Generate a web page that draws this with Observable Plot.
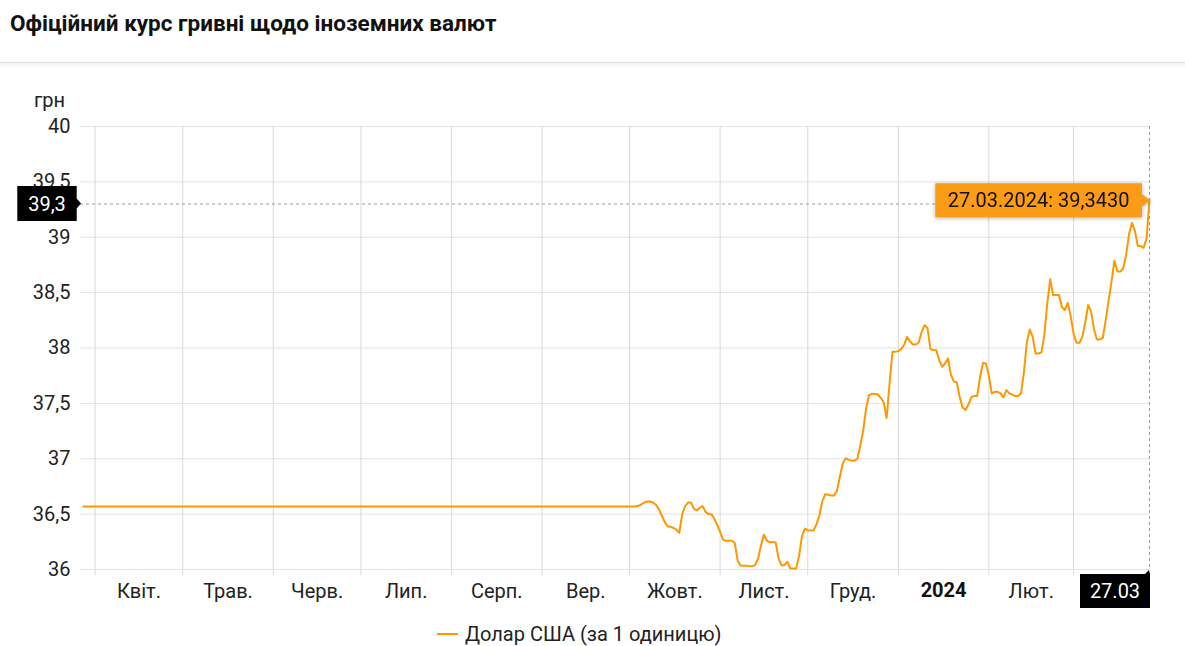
<!DOCTYPE html>
<html><head><meta charset="utf-8">
<script src="https://cdn.jsdelivr.net/npm/d3@7"></script>
<script src="https://cdn.jsdelivr.net/npm/@observablehq/plot@0.6"></script>
<style>
body{margin:0;background:#fff;font-family:Roboto,sans-serif;width:1185px;height:646px;position:relative;overflow:hidden}
#title{position:absolute;left:10px;top:10px;font-size:22.5px;font-weight:bold;color:#111;white-space:nowrap}
#sep{position:absolute;left:0;top:62px;width:1185px;height:1px;background:#dcdcdc;box-shadow:0 2px 3px rgba(0,0,0,0.14)}
#chart{position:absolute;left:0;top:70px}
#legend{position:absolute;left:437px;top:622px;font-size:20px;color:#222;display:flex;align-items:center;white-space:nowrap}
</style></head><body>
<div id="title">Офіційний курс гривні щодо іноземних валют</div>
<div id="sep"></div>
<div id="chart"></div>
<div id="legend"><svg width="22" height="4"><line x1="0" x2="21" y1="2" y2="2" stroke="#FF9800" stroke-width="2"/></svg><span style="margin-left:6px">Долар США (за 1 одиницю)</span></div>
<script>
const dates = [
"2023-03-28","2023-10-03","2023-10-04","2023-10-05","2023-10-06","2023-10-07","2023-10-08","2023-10-09","2023-10-10","2023-10-11","2023-10-12","2023-10-13","2023-10-14","2023-10-15","2023-10-16","2023-10-17","2023-10-18","2023-10-19","2023-10-20","2023-10-21","2023-10-22","2023-10-23","2023-10-24","2023-10-25","2023-10-26","2023-10-27","2023-10-28","2023-10-29","2023-10-30","2023-10-31",
"2023-11-01","2023-11-02","2023-11-03","2023-11-04","2023-11-05","2023-11-06","2023-11-07","2023-11-08","2023-11-09","2023-11-10","2023-11-11","2023-11-12","2023-11-13","2023-11-14","2023-11-15","2023-11-16","2023-11-17","2023-11-18","2023-11-19","2023-11-20","2023-11-21","2023-11-22","2023-11-23","2023-11-24","2023-11-25","2023-11-26","2023-11-27","2023-11-28","2023-11-29","2023-11-30",
"2023-12-01","2023-12-02","2023-12-03","2023-12-04","2023-12-05","2023-12-06","2023-12-07","2023-12-08","2023-12-09","2023-12-10","2023-12-11","2023-12-12","2023-12-13","2023-12-14","2023-12-15","2023-12-16","2023-12-17","2023-12-18","2023-12-19","2023-12-20","2023-12-21","2023-12-22","2023-12-23","2023-12-24","2023-12-25","2023-12-26","2023-12-27","2023-12-28","2023-12-29","2023-12-30","2023-12-31",
"2024-01-01","2024-01-02","2024-01-03","2024-01-04","2024-01-05","2024-01-06","2024-01-07","2024-01-08","2024-01-09","2024-01-10","2024-01-11","2024-01-12","2024-01-13","2024-01-14","2024-01-15","2024-01-16","2024-01-17","2024-01-18","2024-01-19","2024-01-20","2024-01-21","2024-01-22","2024-01-23","2024-01-24","2024-01-25","2024-01-26","2024-01-27","2024-01-28","2024-01-29","2024-01-30","2024-01-31",
"2024-02-01","2024-02-02","2024-02-03","2024-02-04","2024-02-05","2024-02-06","2024-02-07","2024-02-08","2024-02-09","2024-02-10","2024-02-11","2024-02-12","2024-02-13","2024-02-14","2024-02-15","2024-02-16","2024-02-17","2024-02-18","2024-02-19","2024-02-20","2024-02-21","2024-02-22","2024-02-23","2024-02-24","2024-02-25","2024-02-26","2024-02-27","2024-02-28","2024-02-29",
"2024-03-01","2024-03-02","2024-03-03","2024-03-04","2024-03-05","2024-03-06","2024-03-07","2024-03-08","2024-03-09","2024-03-10","2024-03-11","2024-03-12","2024-03-13","2024-03-14","2024-03-15","2024-03-16","2024-03-17","2024-03-18","2024-03-19","2024-03-20","2024-03-21","2024-03-22","2024-03-23","2024-03-24","2024-03-25","2024-03-26","2024-03-27"
];
const usd = [
36.5686,36.5686,36.575,36.587,36.605,36.614,36.614,36.605,36.585,36.545,36.49,36.43,36.39,36.386,36.375,36.36,36.33,36.50,36.57,36.605,36.605,36.55,36.533,36.558,36.572,36.52,36.50,36.50,36.46,36.40,
36.34,36.27,36.26,36.26,36.26,36.24,36.08,36.035,36.033,36.035,36.03,36.03,36.04,36.10,36.22,36.315,36.26,36.245,36.245,36.245,36.10,36.037,36.04,36.07,36.01,36.01,36.01,36.12,36.30,36.37,
36.355,36.353,36.353,36.41,36.49,36.62,36.68,36.675,36.668,36.668,36.71,36.84,36.96,37.005,36.99,36.983,36.983,37.00,37.12,37.26,37.46,37.575,37.588,37.585,37.58,37.55,37.507,37.367,37.68,37.966,37.966,
37.972,37.99,38.03,38.10,38.06,38.032,38.032,38.05,38.146,38.206,38.18,37.99,37.982,37.98,37.89,37.83,37.86,37.906,37.76,37.70,37.69,37.56,37.462,37.44,37.49,37.555,37.567,37.567,37.74,37.865,37.86,
37.75,37.59,37.604,37.604,37.59,37.554,37.62,37.59,37.58,37.566,37.566,37.59,37.78,38.05,38.168,38.10,37.95,37.95,37.96,38.12,38.40,38.62,38.478,38.478,38.478,38.37,38.342,38.408,38.29,
38.13,38.047,38.047,38.10,38.23,38.388,38.33,38.17,38.077,38.077,38.09,38.25,38.43,38.60,38.788,38.69,38.69,38.72,38.84,39.03,39.13,39.06,38.92,38.92,38.905,38.99,39.343
];
const xDomain = ["2023-03-27", "2024-03-27"];
const yTicks = [36, 36.5, 37, 37.5, 38, 38.5, 39, 39.5, 40];
const monthStarts = ["2023-04-01","2023-05-01","2023-06-01","2023-07-01","2023-08-01","2023-09-01","2023-10-01","2023-11-01","2023-12-01","2024-01-01","2024-02-01","2024-03-01"];
const monthLabels = ["Квіт.","Трав.","Черв.","Лип.","Серп.","Вер.","Жовт.","Лист.","Груд.","2024","Лют."];
const boldLabels = ["2024"];
const cursorValue = 39.3;
const unitLabel = "грн";

const table = dates.map((d, i) => ({date: new Date(d), usd: usd[i]}));
const starts = monthStarts.map(d => new Date(d));
const labelRows = monthLabels.map((label, i) => ({
  date: new Date((+starts[i] + +starts[i + 1]) / 2),
  label,
  bold: boldLabels.includes(label)
}));
const comma = v => String(v).replace(".", ",");
const last = table[table.length - 1];

const chart = Plot.plot({
  width: 1185, height: 545,
  marginLeft: 80, marginRight: 36, marginTop: 56, marginBottom: 46,
  x: {type: "utc", domain: xDomain.map(d => new Date(d)), axis: null},
  y: {domain: [36, 40], axis: null},
  style: {fontFamily: "Roboto, sans-serif", fontSize: "20px", color: "#222", background: "transparent", overflow: "visible"},
  marks: [
    Plot.ruleY(yTicks, {stroke: "#e3e3e3", strokeOpacity: 1}),
    Plot.ruleX(starts, {stroke: "#d9d9d9", strokeOpacity: 1, insetBottom: -6}),
    Plot.text(yTicks, {y: d => d, text: d => comma(d), frameAnchor: "left", textAnchor: "end", lineAnchor: "middle", dx: -10}),
    Plot.text(labelRows.filter(d => !d.bold), {x: "date", text: "label", frameAnchor: "bottom", lineAnchor: "middle", dy: 22}),
    Plot.text(labelRows.filter(d => d.bold), {x: "date", text: "label", frameAnchor: "bottom", lineAnchor: "middle", dy: 21, fontWeight: "bold", fill: "#111"}),
    Plot.text([unitLabel], {text: d => d, frameAnchor: "top-left", textAnchor: "middle", lineAnchor: "middle", dx: -31, dy: -26}),
    Plot.ruleY([cursorValue], {stroke: "#9a9a9a", strokeDasharray: "3,3"}),
    Plot.ruleX([last.date], {stroke: "#9a9a9a", strokeDasharray: "3,3"}),
    Plot.line(table, {x: "date", y: "usd", stroke: "#FF9800", strokeWidth: 2})
  ]
});
document.getElementById("chart").append(chart);

// annotations placed through the chart's own scales
const sx = chart.scale("x"), sy = chart.scale("y");
const svg = d3.select(chart);
const px = sx.apply(last.date), py = sy.apply(last.usd);
const frameLeft = sx.apply(new Date(xDomain[0]));
const frameBottom = sy.apply(36);
const g = svg.append("g").attr("font-family", "Roboto, sans-serif").attr("font-size", 20);

// orange value tooltip
const tipG = g.append("g").style("filter", "drop-shadow(0px 1px 2px rgba(0,0,0,0.3))");
const tipText = `${d3.utcFormat("%d.%m.%Y")(last.date)}: ${last.usd.toFixed(4).replace(".", ",")}`;
const tt = tipG.append("text").attr("text-anchor", "middle").attr("dy", "0.35em").attr("fill", "#111").text(tipText);
const tw = tt.node().getComputedTextLength();
const tRight = px - 7, tW = tw + 25, tH = 34, tCy = py + 1.5;
tipG.insert("path", "text")
  .attr("d", `M${tRight - tW},${tCy - tH/2}H${tRight}V${tCy - 6}L${px + 1},${tCy}L${tRight},${tCy + 6}V${tCy + tH/2}H${tRight - tW}Z`)
  .attr("fill", "#FB9B16");
tt.attr("x", tRight - tW / 2).attr("y", tCy);

// black y cursor label
const cy = sy.apply(cursorValue);
const yRight = frameLeft - 3.3, yW = 59.4, yH = 35;
g.append("path")
  .attr("d", `M${yRight - yW},${cy - yH/2}H${yRight}V${cy - 5}L${frameLeft + 1},${cy}L${yRight},${cy + 5}V${cy + yH/2}H${yRight - yW}Z`)
  .attr("fill", "#000");
g.append("text").attr("x", yRight - yW / 2).attr("y", cy).attr("dy", "0.35em")
  .attr("text-anchor", "middle").attr("fill", "#fff").text(comma(cursorValue.toFixed(1)));

// black x cursor label
const xTop = frameBottom + 5, xH = 34, xW = 70, xRight = px + 1;
g.append("path")
  .attr("d", `M${xRight - xW},${xTop}H${px - 4}L${px},${frameBottom + 1}L${xRight},${xTop}V${xTop + xH}H${xRight - xW}Z`)
  .attr("fill", "#000");
g.append("text").attr("x", xRight - xW / 2).attr("y", xTop + xH / 2).attr("dy", "0.35em")
  .attr("text-anchor", "middle").attr("fill", "#fff").text(d3.utcFormat("%d.%m")(last.date));
</script>
</body></html>
